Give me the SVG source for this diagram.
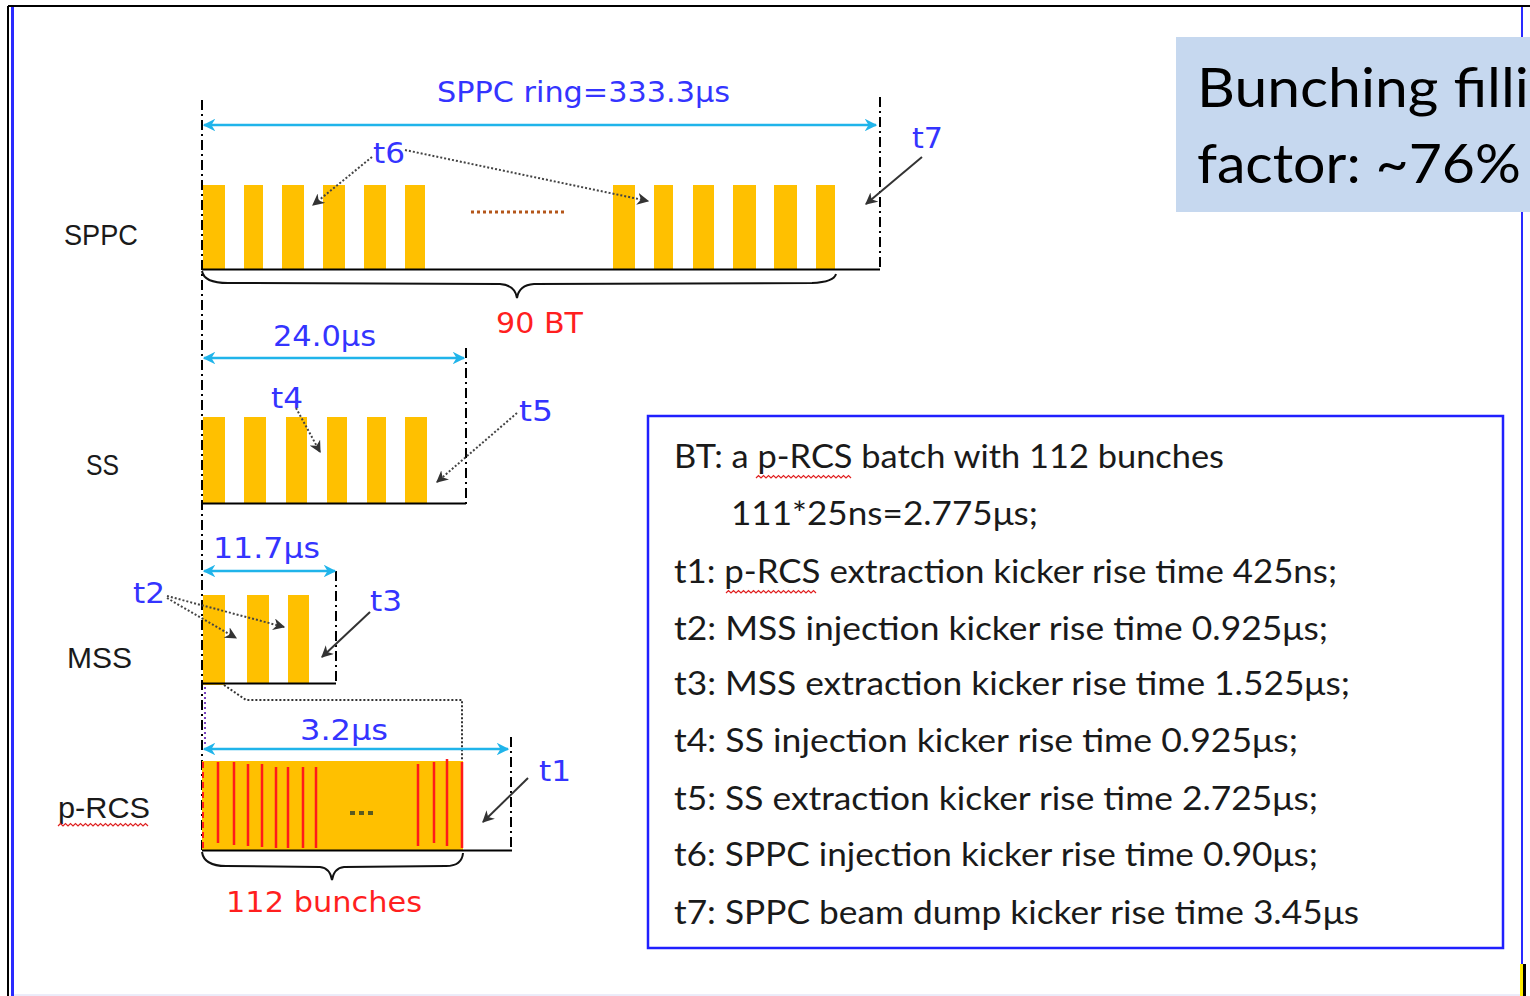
<svg xmlns="http://www.w3.org/2000/svg" width="1530" height="996" viewBox="0 0 1530 996">
<style>
.bar{fill:#ffc000}
.base{stroke:#000;stroke-width:2;fill:none}
.dd{stroke:#000;stroke-width:2;stroke-dasharray:10 4 2 4;fill:none}
.dim{stroke:#20b4ea;stroke-width:2.5;fill:none;marker-start:url(#ca);marker-end:url(#ca)}
.brace{stroke:#111;stroke-width:2;fill:none}
.lbl{font-family:"Liberation Sans","DejaVu Sans",sans-serif;font-size:30px;fill:#1a1a1a}
.blue{font-family:"DejaVu Sans","Liberation Sans",sans-serif;font-size:29px;fill:#3434ff}
.red{font-family:"DejaVu Sans","Liberation Sans",sans-serif;font-size:29px;fill:#ff1f1f}
.note{font-family:Lato,"Open Sans",sans-serif;font-size:33px;fill:#1a1a1a}
.big{font-family:Lato,"Open Sans",sans-serif;font-size:55px;fill:#000}
.dot{stroke:#444;stroke-width:2;stroke-dasharray:2 2;fill:none;marker-end:url(#ga)}
.sol{stroke:#333;stroke-width:2;fill:none;marker-end:url(#ga)}
.rl{stroke:#ff1a1a;stroke-width:2.5}
.wavy{stroke:#e02020;stroke-width:1.2;fill:none}
</style>
<defs>
<marker id="ca" viewBox="0 0 10 10" refX="9" refY="5" markerWidth="5" markerHeight="5" orient="auto-start-reverse" markerUnits="strokeWidth"><path d="M0,0 L10,5 L0,10 L3,5 z" fill="#20b4ea"/></marker>
<marker id="ga" viewBox="0 0 10 10" refX="9" refY="5" markerWidth="6" markerHeight="6" orient="auto" markerUnits="strokeWidth"><path d="M0,0 L10,5 L0,10 L3,5 z" fill="#333"/></marker>
</defs>
<rect x="0" y="0" width="1530" height="996" fill="#fff"/>
<g id="frame">
<line x1="8" y1="6" x2="1530" y2="6" stroke="#000" stroke-width="2"/>
<line x1="8" y1="6" x2="8" y2="996" stroke="#000" stroke-width="2"/>
<line x1="12.5" y1="7" x2="12.5" y2="996" stroke="#2a2aff" stroke-width="3"/>
<line x1="1522" y1="7" x2="1522" y2="964" stroke="#2a2aff" stroke-width="2"/>
<rect x="1520" y="964" width="3" height="32" fill="#ffee00"/>
<rect x="1523" y="964" width="3" height="32" fill="#000"/>
<line x1="14" y1="995" x2="1520" y2="995" stroke="#d8d8f4" stroke-width="1"/>
</g>
<g id="fill-factor">
<rect x="1176" y="37" width="354" height="175" fill="#c6d8ef"/>
<text class="big" x="1197" y="107" textLength="332" lengthAdjust="spacingAndGlyphs">Bunching filli</text>
<text class="big" x="1197" y="183" textLength="324" lengthAdjust="spacingAndGlyphs">factor: ~76%</text>
</g>
<line x1="202" y1="100" x2="202" y2="850" class="dd"/>
<g id="sppc">
<text class="lbl" x="64" y="245" textLength="74" lengthAdjust="spacingAndGlyphs">SPPC</text>
<text class="blue" x="437" y="102" textLength="293" lengthAdjust="spacingAndGlyphs">SPPC ring=333.3μs</text>
<line x1="880" y1="97" x2="880" y2="270" class="dd"/>
<rect class="bar" x="203" y="185" width="22" height="84"/>
<rect class="bar" x="244" y="185" width="19" height="84"/>
<rect class="bar" x="282" y="185" width="22" height="84"/>
<rect class="bar" x="323" y="185" width="22" height="84"/>
<rect class="bar" x="364" y="185" width="22" height="84"/>
<rect class="bar" x="405" y="185" width="20" height="84"/>
<rect class="bar" x="613" y="185" width="22" height="84"/>
<rect class="bar" x="654" y="185" width="19" height="84"/>
<rect class="bar" x="693" y="185" width="21" height="84"/>
<rect class="bar" x="733" y="185" width="23" height="84"/>
<rect class="bar" x="774" y="185" width="23" height="84"/>
<rect class="bar" x="816" y="185" width="19" height="84"/>
<line x1="471" y1="212" x2="565" y2="212" stroke="#b4561a" stroke-width="3" stroke-dasharray="3 3"/>
<line x1="202" y1="269.5" x2="880" y2="269.5" class="base"/>
<path class="brace" d="M202,271 Q204,283 228,283 L500,284 Q515,285 517,298 Q519,285 534,284 L812,283 Q834,282 836,274"/>
<text class="red" x="496" y="333" textLength="87" lengthAdjust="spacingAndGlyphs">90 BT</text>
<text class="blue" x="373" y="163" textLength="32" lengthAdjust="spacingAndGlyphs">t6</text>
<text class="blue" x="912" y="148" textLength="31" lengthAdjust="spacingAndGlyphs">t7</text>
</g>
<g id="ss">
<text class="lbl" x="86" y="475" textLength="33" lengthAdjust="spacingAndGlyphs">SS</text>
<text class="blue" x="273" y="346" textLength="103" lengthAdjust="spacingAndGlyphs">24.0μs</text>
<line x1="466" y1="348" x2="466" y2="506" class="dd"/>
<rect class="bar" x="203" y="417" width="22" height="86"/>
<rect class="bar" x="244" y="417" width="22" height="86"/>
<rect class="bar" x="286" y="417" width="21" height="86"/>
<rect class="bar" x="327" y="417" width="20" height="86"/>
<rect class="bar" x="367" y="417" width="19" height="86"/>
<rect class="bar" x="405" y="417" width="22" height="86"/>
<line x1="202" y1="503.5" x2="466" y2="503.5" class="base"/>
<text class="blue" x="271" y="408" textLength="32" lengthAdjust="spacingAndGlyphs">t4</text>
<text class="blue" x="519" y="421" textLength="34" lengthAdjust="spacingAndGlyphs">t5</text>
</g>
<g id="mss">
<text class="lbl" x="67" y="668" textLength="65" lengthAdjust="spacingAndGlyphs">MSS</text>
<text class="blue" x="213" y="558" textLength="107" lengthAdjust="spacingAndGlyphs">11.7μs</text>
<line x1="336" y1="571" x2="336" y2="685" class="dd"/>
<rect class="bar" x="203" y="595" width="22" height="90"/>
<rect class="bar" x="247" y="595" width="22" height="88"/>
<rect class="bar" x="288" y="595" width="21" height="88"/>
<line x1="202" y1="683.5" x2="336" y2="683.5" class="base"/>
<text class="blue" x="133" y="603" textLength="32" lengthAdjust="spacingAndGlyphs">t2</text>
<text class="blue" x="370" y="611" textLength="32" lengthAdjust="spacingAndGlyphs">t3</text>
<path d="M224,685 L246,700 L462,700 L462,762" stroke="#333" stroke-width="2" stroke-dasharray="2 2" fill="none"/>
<line x1="205" y1="687" x2="205" y2="745" stroke="#7a3fbf" stroke-width="2" stroke-dasharray="2 3"/>
</g>
<g id="prcs">
<text class="lbl" x="58" y="818" textLength="92" lengthAdjust="spacingAndGlyphs">p-RCS</text>
<path class="wavy" d="M58,826 l2.5,-2.5 l2.5,2.5 l2.5,-2.5 l2.5,2.5 l2.5,-2.5 l2.5,2.5 l2.5,-2.5 l2.5,2.5 l2.5,-2.5 l2.5,2.5 l2.5,-2.5 l2.5,2.5 l2.5,-2.5 l2.5,2.5 l2.5,-2.5 l2.5,2.5 l2.5,-2.5 l2.5,2.5 l2.5,-2.5 l2.5,2.5 l2.5,-2.5 l2.5,2.5 l2.5,-2.5 l2.5,2.5 l2.5,-2.5 l2.5,2.5 l2.5,-2.5 l2.5,2.5 l2.5,-2.5 l2.5,2.5 l2.5,-2.5 l2.5,2.5 l2.5,-2.5 l2.5,2.5 l2.5,-2.5 l2.5,2.5"/>
<text class="blue" x="300" y="740" textLength="88" lengthAdjust="spacingAndGlyphs">3.2μs</text>
<line x1="511" y1="737" x2="511" y2="851" class="dd"/>
<rect class="bar" x="202" y="761" width="261" height="89"/>
<line x1="203" y1="762" x2="203" y2="848" stroke="#ff1a1a" stroke-width="2" stroke-dasharray="6 4"/>
<line class="rl" x1="218" y1="762" x2="218" y2="843"/>
<line class="rl" x1="234" y1="762" x2="234" y2="845"/>
<line class="rl" x1="248" y1="764" x2="248" y2="846"/>
<line class="rl" x1="262" y1="764" x2="262" y2="847"/>
<line class="rl" x1="276" y1="767" x2="276" y2="848"/>
<line class="rl" x1="288" y1="767" x2="288" y2="848"/>
<line class="rl" x1="303" y1="767" x2="303" y2="848"/>
<line class="rl" x1="316" y1="767" x2="316" y2="848"/>
<line class="rl" x1="418" y1="764" x2="418" y2="846"/>
<line class="rl" x1="434" y1="762" x2="434" y2="843"/>
<line class="rl" x1="447" y1="759" x2="447" y2="846"/>
<line class="rl" x1="462" y1="762" x2="462" y2="848"/>
<line x1="350" y1="813" x2="376" y2="813" stroke="#5a5a20" stroke-width="4" stroke-dasharray="5 4"/>
<line x1="202" y1="850.5" x2="512" y2="850.5" class="base"/>
<path class="brace" d="M202,852 Q204,866 226,866 L320,867 Q330,868 332,880 Q334,868 344,867 L446,866 Q462,866 463,853"/>
<text class="red" x="226" y="912" textLength="196" lengthAdjust="spacingAndGlyphs">112 bunches</text>
<text class="blue" x="539" y="781" textLength="32" lengthAdjust="spacingAndGlyphs">t1</text>
</g>
<g id="connectors">
<line class="dim" x1="204" y1="125" x2="876" y2="125"/>
<line class="dim" x1="204" y1="358" x2="464" y2="358"/>
<line class="dim" x1="204" y1="571" x2="335" y2="571"/>
<line class="dim" x1="204" y1="749" x2="508" y2="749"/>
<path class="dot" d="M372,157 L313,205"/>
<path class="dot" d="M405,150 L648,201"/>
<path class="sol" d="M922,157 L866,204"/>
<path class="dot" d="M296,408 L320,452"/>
<path class="dot" d="M517,413 L437,482"/>
<path class="dot" d="M167,598 L236,638"/>
<path class="dot" d="M167,596 L284,627"/>
<path class="sol" d="M370,612 L322,657"/>
<path class="sol" d="M528,778 L483,822"/>
</g>
<g id="legend">
<rect x="648" y="416" width="855" height="532" fill="#fff" stroke="#2020ff" stroke-width="2.5"/>
<text class="note" x="674" y="468" textLength="550" lengthAdjust="spacingAndGlyphs">BT: a p-RCS batch with 112 bunches</text>
<path class="wavy" d="M756,478 l2.5,-2.5 l2.5,2.5 l2.5,-2.5 l2.5,2.5 l2.5,-2.5 l2.5,2.5 l2.5,-2.5 l2.5,2.5 l2.5,-2.5 l2.5,2.5 l2.5,-2.5 l2.5,2.5 l2.5,-2.5 l2.5,2.5 l2.5,-2.5 l2.5,2.5 l2.5,-2.5 l2.5,2.5 l2.5,-2.5 l2.5,2.5 l2.5,-2.5 l2.5,2.5 l2.5,-2.5 l2.5,2.5 l2.5,-2.5 l2.5,2.5 l2.5,-2.5 l2.5,2.5 l2.5,-2.5 l2.5,2.5 l2.5,-2.5 l2.5,2.5 l2.5,-2.5 l2.5,2.5 l2.5,-2.5 l2.5,2.5 l2.5,-2.5 l2.5,2.5"/>
<text class="note" x="731" y="525" textLength="307" lengthAdjust="spacingAndGlyphs">111*25ns=2.775μs;</text>
<text class="note" x="674" y="583" textLength="663" lengthAdjust="spacingAndGlyphs">t1: p-RCS extraction kicker rise time 425ns;</text>
<path class="wavy" d="M726,593 l2.5,-2.5 l2.5,2.5 l2.5,-2.5 l2.5,2.5 l2.5,-2.5 l2.5,2.5 l2.5,-2.5 l2.5,2.5 l2.5,-2.5 l2.5,2.5 l2.5,-2.5 l2.5,2.5 l2.5,-2.5 l2.5,2.5 l2.5,-2.5 l2.5,2.5 l2.5,-2.5 l2.5,2.5 l2.5,-2.5 l2.5,2.5 l2.5,-2.5 l2.5,2.5 l2.5,-2.5 l2.5,2.5 l2.5,-2.5 l2.5,2.5 l2.5,-2.5 l2.5,2.5 l2.5,-2.5 l2.5,2.5 l2.5,-2.5 l2.5,2.5 l2.5,-2.5 l2.5,2.5 l2.5,-2.5 l2.5,2.5"/>
<text class="note" x="674" y="640" textLength="654" lengthAdjust="spacingAndGlyphs">t2: MSS injection kicker rise time 0.925μs;</text>
<text class="note" x="674" y="695" textLength="676" lengthAdjust="spacingAndGlyphs">t3: MSS extraction kicker rise time 1.525μs;</text>
<text class="note" x="674" y="752" textLength="624" lengthAdjust="spacingAndGlyphs">t4: SS injection kicker rise time 0.925μs;</text>
<text class="note" x="674" y="810" textLength="644" lengthAdjust="spacingAndGlyphs">t5: SS extraction kicker rise time 2.725μs;</text>
<text class="note" x="674" y="866" textLength="644" lengthAdjust="spacingAndGlyphs">t6: SPPC injection kicker rise time 0.90μs;</text>
<text class="note" x="674" y="924" textLength="685" lengthAdjust="spacingAndGlyphs">t7: SPPC beam dump kicker rise time 3.45μs</text>
</g>
</svg>
